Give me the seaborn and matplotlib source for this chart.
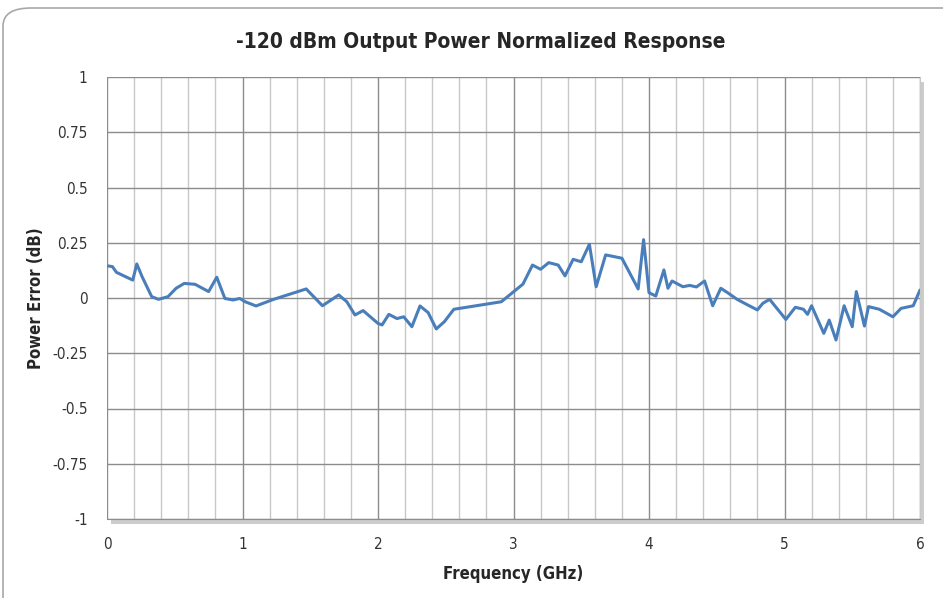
import numpy as np
import pandas as pd
import matplotlib
matplotlib.use('Agg')
import matplotlib.pyplot as plt
from matplotlib.patches import FancyBboxPatch, Rectangle
import seaborn as sns

# frequency (GHz) and power error (dB)
freq_ghz = [0.01, 0.04, 0.07, 0.19, 0.22, 0.26, 0.33, 0.38, 0.45, 0.51, 0.57, 0.65,
            0.75, 0.81, 0.87, 0.93, 0.98, 1.02, 1.10, 1.23, 1.47, 1.59, 1.71, 1.77,
            1.83, 1.89, 2.00, 2.03, 2.08, 2.14, 2.19, 2.25, 2.31, 2.37, 2.43, 2.49,
            2.56, 2.91, 3.07, 3.14, 3.20, 3.26, 3.33, 3.38, 3.44, 3.50, 3.56, 3.61,
            3.68, 3.80, 3.92, 3.96, 4.00, 4.05, 4.11, 4.14, 4.17, 4.25, 4.30, 4.35,
            4.41, 4.47, 4.53, 4.58, 4.65, 4.73, 4.80, 4.84, 4.89, 5.01, 5.08, 5.14,
            5.17, 5.20, 5.29, 5.33, 5.38, 5.44, 5.50, 5.53, 5.59, 5.62, 5.70, 5.80,
            5.86, 5.95, 6.00]
power_err = [0.145, 0.142, 0.116, 0.081, 0.154, 0.095, 0.006, -0.006, 0.006, 0.044, 0.066, 0.062,
             0.029, 0.094, -0.002, -0.009, -0.002, -0.017, -0.036, -0.006, 0.041, -0.035, 0.014, -0.017,
             -0.077, -0.057, -0.115, -0.122, -0.074, -0.093, -0.085, -0.13, -0.036, -0.066, -0.14, -0.107,
             -0.051, -0.017, 0.063, 0.149, 0.130, 0.160, 0.149, 0.100, 0.175, 0.164, 0.243, 0.051,
             0.195, 0.18, 0.041, 0.264, 0.024, 0.009, 0.127, 0.044, 0.077, 0.051, 0.057, 0.050,
             0.077, -0.035, 0.044, 0.024, -0.006, -0.032, -0.054, -0.024, -0.006, -0.097, -0.042, -0.051,
             -0.074, -0.035, -0.16, -0.1, -0.19, -0.035, -0.13, 0.029, -0.127, -0.039, -0.051, -0.085,
             -0.047, -0.035, 0.036]

y_ticks = [-1, -0.75, -0.5, -0.25, 0, 0.25, 0.5, 0.75, 1]
y_labels = ['-1', '-0.75', '-0.5', '-0.25', '0', '0.25', '0.5', '0.75', '1']
x_ticks = [0, 1, 2, 3, 4, 5, 6]

df = pd.DataFrame({'freq': freq_ghz, 'err': power_err})

sns.set_style('white')
plt.rcParams['font.family'] = ['Liberation Sans Narrow', 'DejaVu Sans']
plt.rcParams['font.stretch'] = 'condensed'

fig = plt.figure(figsize=(9.43, 5.98), dpi=100)
ax = fig.add_axes([107/943, 1 - 519/598, 813/943, 442/598])

# outer rounded frame, running off the right and bottom edges
frame = FancyBboxPatch((3/943, -0.3), 1.3, 1.3 - 8/598, boxstyle='round,pad=0,rounding_size=0.03',
                       transform=fig.transFigure, fill=False, edgecolor='#a8a8a8', linewidth=1.2)
fig.patches.append(frame)
# drop shadow behind plot area
shadow = Rectangle((111/943, 1 - 524/598), 813/943, 442/598, transform=fig.transFigure,
                   facecolor='#cccccc', edgecolor='none', zorder=-1)
fig.patches.append(shadow)
ax.set_facecolor('white')
ax.set_zorder(2)

sns.lineplot(data=df, x='freq', y='err', ax=ax, color='#4a7ebb', linewidth=2.2)

ax.set_xlim(0, 6)
ax.set_ylim(-1, 1)
ax.set_xticks(x_ticks)
ax.set_xticklabels([str(t) for t in x_ticks])
ax.set_xticks(np.arange(0, 6.01, 0.2), minor=True)
ax.set_yticks(y_ticks)
ax.set_yticklabels(y_labels)

ax.grid(True, which='major', axis='both', color='#8c8c8c', linewidth=1.0)
ax.grid(True, which='minor', axis='x', color='#c8c8c8', linewidth=1.0)
ax.set_axisbelow(True)
for s in ax.spines.values():
    s.set_visible(False)
ax.spines['bottom'].set_visible(True)
ax.spines['bottom'].set_color('#8c8c8c')
ax.spines['right'].set_visible(True)
ax.spines['right'].set_color('#c8c8c8')

ax.tick_params(axis='y', which='major', length=7, color='#8c8c8c', labelsize=11,
               labelcolor='#333333', pad=7)
ax.tick_params(axis='x', which='both', length=0, labelsize=11, labelcolor='#333333', pad=13)

ax.set_xlabel('Frequency (GHz)', fontsize=12, fontweight='bold', labelpad=9)
ax.set_ylabel('Power Error (dB)', fontsize=12, fontweight='bold', labelpad=5)
fig.text(481/943, 1 - 42/598, '-120 dBm Output Power Normalized Response', ha='center', va='center',
         fontsize=15, fontweight='bold')

fig.savefig('out.png', dpi=100)
